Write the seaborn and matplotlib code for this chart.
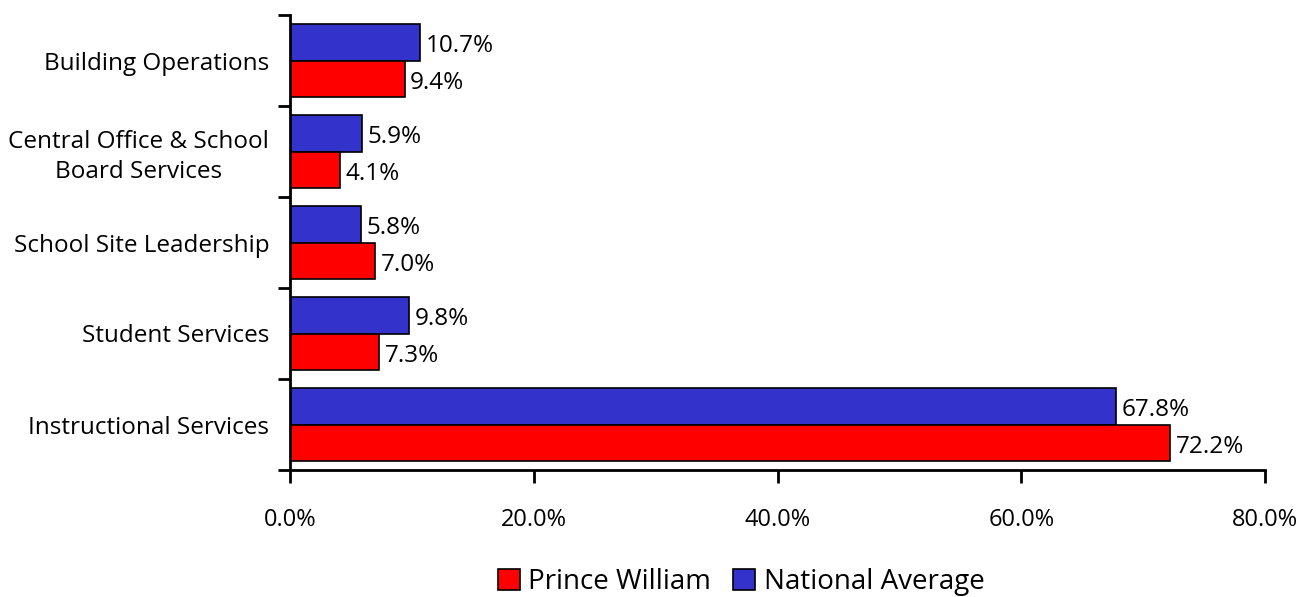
import matplotlib
matplotlib.use("Agg")
import matplotlib.pyplot as plt
import matplotlib.patches as mpatches
from matplotlib.ticker import FixedLocator, PercentFormatter
import seaborn as sns
import pandas as pd

categories = [
    "Building Operations",
    "Central Office & School\nBoard Services",
    "School Site Leadership",
    "Student Services",
    "Instructional Services",
]
national_average = [10.7, 5.9, 5.8, 9.8, 67.8]
prince_william = [9.4, 4.1, 7.0, 7.3, 72.2]
series_names = ["National Average", "Prince William"]
series_colors = {"National Average": "#3333CC", "Prince William": "#FF0000"}

df = pd.DataFrame({
    "category": categories * 2,
    "value": national_average + prince_william,
    "series": [series_names[0]] * len(categories) + [series_names[1]] * len(categories),
})

sns.set_theme(style="white")
plt.rcParams["font.family"] = ["Open Sans", "DejaVu Sans"]
plt.rcParams["text.color"] = "black"
plt.rcParams["xtick.color"] = "black"
plt.rcParams["ytick.color"] = "black"

fig = plt.figure(figsize=(13.15, 5.97), dpi=100)
ax = fig.add_axes([290 / 1315, 1 - 470 / 597, (1265 - 290) / 1315, (470 - 15) / 597])

sns.barplot(
    data=df, y="category", x="value", hue="series", order=categories,
    hue_order=series_names, palette=series_colors, orient="h",
    edgecolor="black", linewidth=1.2, width=0.8, saturation=1, ax=ax, legend=False,
)

for container in ax.containers:
    labels = ax.bar_label(container, fmt="%.1f%%", padding=4, fontsize=17.5, color="black")
    for lab in labels:
        # nudge value labels slightly below the bar centre line
        lab.xyann = (4, -3)

ax.set_xlim(0, 80)
ax.set_ylim(len(categories) - 0.5, -0.5)
ax.set_xticks([0, 20, 40, 60, 80])
ax.xaxis.set_major_formatter(PercentFormatter(decimals=1))
ax.set_xlabel("")
ax.set_ylabel("")

# category labels without tick marks; tick marks on group boundaries
ax.tick_params(axis="y", which="major", length=0, pad=15, labelsize=17.5, labelcolor="black")
ax.yaxis.set_minor_locator(FixedLocator([i - 0.5 for i in range(len(categories) + 1)]))
ax.tick_params(axis="y", which="minor", length=9, width=2, direction="out", color="black", left=True)
ax.tick_params(axis="x", which="major", length=9, width=2, direction="out", color="black",
               bottom=True, pad=18, labelsize=17, labelcolor="black")
for lbl in ax.get_yticklabels():
    lbl.set_multialignment("center")
    lbl.set_linespacing(1.3)

for side in ["top", "right"]:
    ax.spines[side].set_visible(False)
for side in ["left", "bottom"]:
    ax.spines[side].set_color("black")
    ax.spines[side].set_linewidth(2)

handles = [
    mpatches.Patch(facecolor=series_colors["Prince William"], edgecolor="black", linewidth=1.2, label="Prince William"),
    mpatches.Patch(facecolor=series_colors["National Average"], edgecolor="black", linewidth=1.2, label="National Average"),
]
fig.legend(handles=handles, loc="center", bbox_to_anchor=(741 / 1315, 1 - 582 / 597), ncol=2,
           frameon=False, fontsize=20, handlelength=0.8, handleheight=0.8,
           handletextpad=0.3, columnspacing=0.8, labelcolor="black")

fig.savefig("out.png", dpi=100)
